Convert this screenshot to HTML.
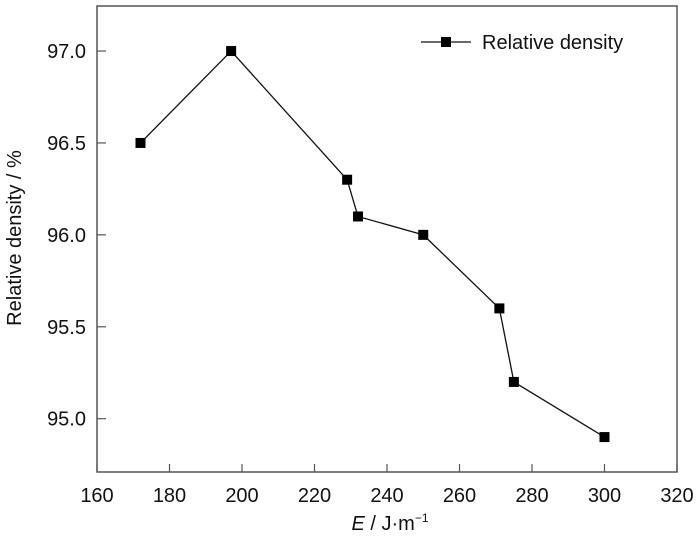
<!DOCTYPE html>
<html><head><meta charset="utf-8"><style>
body{margin:0;background:#fff;}
svg{display:block;font-family:"Liberation Sans",Arial,sans-serif;}
</style></head><body>
<svg id="c" width="700" height="547"></svg>
<script>
const xTicks=[160,180,200,220,240,260,280,300,320];
const yTicks=[95.0,95.5,96.0,96.5,97.0];
const energy=[172,197,229,232,250,271,275,300];
const density=[96.5,97.0,96.3,96.1,96.0,95.6,95.2,94.9];
const L=97,R=677,T=6,B=472;
const xMin=160,xMax=320,yMin=94.71,yMax=97.245;
const sx=v=>L+(v-xMin)/(xMax-xMin)*(R-L);
const sy=v=>B-(v-yMin)/(yMax-yMin)*(B-T);
const svg=document.getElementById('c');
const NS='http://www.w3.org/2000/svg';
function mk(t,a,p){const e=document.createElementNS(NS,t);for(const k in a)e.setAttribute(k,a[k]);(p||svg).appendChild(e);return e;}
let e=mk('rect',{x:L,y:T,width:R-L,height:B-T,fill:'none',stroke:'#555','stroke-width':1.5});


xTicks.forEach(v=>{const x=sx(v);
 let t=mk('line',{x1:x,x2:x,y1:B,y2:B-8,stroke:'#555','stroke-width':1.2});
 
 
 let l=mk('text',{x:x,y:B+30,'text-anchor':'middle','font-size':20,fill:'#111'});l.textContent=v;
 
 
});
yTicks.forEach(v=>{const y=sy(v);
 let t=mk('line',{x1:L,x2:L+9,y1:y,y2:y,stroke:'#555','stroke-width':1.2});
 
 
 let l=mk('text',{x:L-11,y:y+7,'text-anchor':'end','font-size':20,fill:'#111'});l.textContent=v.toFixed(1);
 
 
});
let pts=energy.map((v,i)=>sx(v)+','+sy(density[i])).join(' ');
let pl=mk('polyline',{points:pts,fill:'none',stroke:'#111','stroke-width':1.3});


energy.forEach((v,i)=>{
 let m=mk('rect',{x:sx(v)-5,y:sy(density[i])-5,width:10,height:10,fill:'#000'});
 
 
});
let g=mk('g',{});


mk('line',{x1:421,x2:471,y1:42,y2:42,stroke:'#111','stroke-width':1.3},g);
mk('rect',{x:441,y:37,width:10,height:10,fill:'#000'},g);
let lt=mk('text',{x:482,y:49,'font-size':20,fill:'#111'},g);lt.textContent='Relative density';
let xt=mk('text',{x:390,y:530,'text-anchor':'middle','font-size':20,fill:'#111'});
xt.innerHTML='<tspan font-style="italic">E</tspan> / J·m<tspan font-size="12" dy="-8">−1</tspan>';


let yt=mk('text',{x:0,y:0,'text-anchor':'middle','font-size':20,fill:'#111',transform:'translate(21,238) rotate(-90)'});
yt.textContent='Relative density / %';


</script>
</body></html>
